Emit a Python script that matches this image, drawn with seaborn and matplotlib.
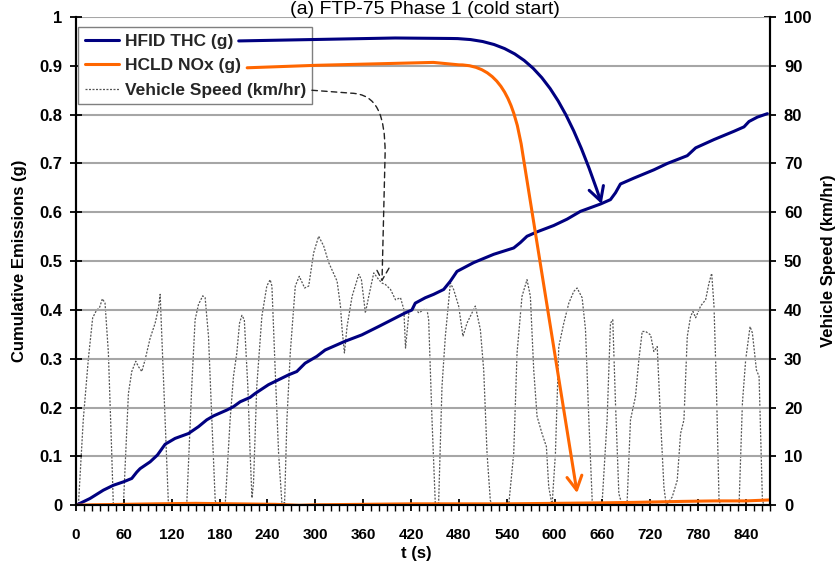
import matplotlib
matplotlib.use("Agg")
import matplotlib.pyplot as plt
import seaborn as sns
import pandas as pd
from matplotlib.path import Path
from matplotlib.patches import FancyArrowPatch
from matplotlib.lines import Line2D
from matplotlib.ticker import FixedLocator, MultipleLocator

# ---------------- data ----------------
thc_t = [0, 17.6, 34.3, 46.8, 59.4, 69.9, 76.2, 80.3, 92.9, 102.1, 111.7, 124.2, 141, 153.5,
         163.9, 172.3, 189, 197.4, 205.8, 218.3, 224.6, 241.3, 266.3, 276.8, 287.2, 301.9,
         312.3, 337.4, 358.3, 379.2, 396, 412.7, 421.1, 425.3, 437.8, 448.3, 460.9, 469.3,
         477.6, 498.5, 523.6, 548.7, 557, 565.4, 578, 598.9, 615.6, 632.4, 657.5, 670, 676.3,
         682.5, 699.3, 724.4, 741.2, 766.3, 776.8, 799.8, 824.9, 837.4, 843.7, 854.2, 866.7]
thc_g = [0, 0.014, 0.031, 0.041, 0.048, 0.055, 0.068, 0.075, 0.089, 0.103, 0.125, 0.137, 0.147,
         0.161, 0.175, 0.183, 0.195, 0.202, 0.212, 0.221, 0.229, 0.247, 0.267, 0.274, 0.291,
         0.305, 0.318, 0.336, 0.349, 0.366, 0.380, 0.394, 0.400, 0.414, 0.425, 0.432, 0.442,
         0.459, 0.479, 0.497, 0.514, 0.527, 0.538, 0.551, 0.560, 0.573, 0.586, 0.602, 0.617,
         0.626, 0.640, 0.658, 0.670, 0.687, 0.700, 0.716, 0.732, 0.749, 0.766, 0.775, 0.786,
         0.795, 0.802]

nox_t = [0, 20, 60, 100, 150, 200, 250, 280, 300, 360, 420, 480, 540, 600, 660, 700, 760, 800,
         840, 870]
nox_g = [0, 0.001, 0.002, 0.003, 0.004, 0.003, 0.002, 0.0, 0.001, 0.002, 0.003, 0.003, 0.003,
         0.004, 0.005, 0.006, 0.008, 0.009, 0.009, 0.011]

speed_t = [0, 3, 9.1, 15.5, 20.9, 25.9, 29.3, 33.1, 36.4, 40.6, 44.8, 46.8, 59.4, 65.7, 69.9,
           74.9, 78.3, 82.5, 86.6, 92.9, 99.2, 103.4, 105.5, 108.8, 111.7, 115.9, 138.8, 145.1,
           149.3, 153.5, 158.9, 161.9, 166.1, 170.3, 174.5, 176.6, 187, 193.2, 197.4, 201.6,
           205, 208, 211, 215.4, 218.3, 220.6, 222.5, 226.6, 233, 239.2, 243.4, 245.6, 249.7,
           254, 258.1, 261.5, 264.4, 268.6, 274.9, 279.9, 286.6, 291.7, 297.9, 304.2, 310.5,
           316.8, 321.8, 327.3, 331.5, 333.6, 336.5, 339.8, 346.1, 354.5, 357.8, 362.8, 367,
           373.3, 379.6, 383.8, 388, 394.3, 400.5, 406.8, 411, 413.1, 417.3, 423.6, 429.9, 436,
           440, 442.1, 446.3, 450.5, 454.6, 458.8, 463, 469.3, 473.4, 479.7, 485.1, 490.1,
           494.3, 500.6, 506.9, 511.1, 515.3, 519.4, 522, 542.4, 548.7, 552.9, 559.1, 565.4,
           569.6, 573.8, 578, 584.2, 589.7, 592.6, 596.8, 601, 605.2, 611.5, 617.8, 624, 628.2,
           634.5, 638.7, 642.9, 647.1, 650, 657, 659.6, 665.8, 670, 672.9, 676.3, 680.5, 684.7,
           690.9, 695.1, 701.4, 705.6, 709.8, 714, 720.3, 724.4, 728.6, 732.8, 737, 739.9,
           747.4, 753.7, 757.9, 762.1, 766.3, 770.5, 773.4, 776.8, 783, 789.3, 793.5, 796.9,
           799.8, 802.8, 806.1, 808.2, 831.2, 835.4, 839.5, 845, 847.9, 853, 856.3, 860.5,
           862.6]
speed_kmh = [0, 0, 17.5, 30, 38.4, 40, 40.4, 42.3, 41.4, 31.2, 10.6, 0, 0, 22.9, 27.4, 29.5,
             28.4, 27.4, 29.8, 34.2, 37.3, 40.4, 43.2, 29.8, 17.5, 0, 0, 24.3, 38, 41.1, 42.9,
             42.5, 34.6, 17.5, 1, 0, 0, 17.5, 26.4, 31.2, 37.3, 38.9, 38, 24.3, 10.6, 1.5, 4.5,
             24.3, 38.7, 44.9, 46.2, 44.9, 27.7, 10.6, 0.5, 0.5, 17.5, 31.2, 44.9, 46.9, 44.5,
             44.9, 51.7, 55.1, 53.1, 49.7, 47.9, 45.9, 40.8, 36, 31.2, 36.6, 42.8, 47.3, 46.2,
             39.4, 42.8, 47.6, 46.2, 45.5, 45.2, 44.2, 42.1, 42.5, 40.1, 32.2, 39.4, 40.4, 39.4,
             40.1, 40.1, 38, 17.5, 0, 0.5, 24.3, 34.6, 45.5, 44.2, 40.8, 34.6, 37.3, 38.7, 40.8,
             36, 27.7, 10.6, 1, 0, 0, 10.6, 31.2, 42.8, 46.2, 42.8, 27.7, 18.2, 14.7, 12, 3.8,
             0, 10.6, 32.5, 37.3, 41.4, 43.8, 44.5, 42.5, 36, 17.5, 1, 0, 0, 0.7, 17.5, 37.3,
             38, 20.9, 2.4, 0, 0.7, 17.5, 22.3, 29.8, 35.6, 35.6, 34.9, 31.5, 32.5, 17.5, 3.8,
             0, 1.7, 5.1, 14.7, 17.5, 34.6, 38.7, 39.7, 38.4, 40.8, 42.1, 45.5, 47.5, 40.8,
             24.3, 1, 0, 0, 20.9, 29.8, 36.6, 35.3, 27.7, 26.4, 1, 0]

x_ticks = [0, 60, 120, 180, 240, 300, 360, 420, 480, 540, 600, 660, 720, 780, 840]
left_ticks = [0, 0.1, 0.2, 0.3, 0.4, 0.5, 0.6, 0.7, 0.8, 0.9, 1]
right_ticks = [0, 10, 20, 30, 40, 50, 60, 70, 80, 90, 100]

series_labels = ["HFID THC (g)", "HCLD NOx (g)", "Vehicle Speed (km/hr)"]
title_text = "(a) FTP-75 Phase 1 (cold start)"

# annotation arrows: straight run from the legend, a bend, then a run to the tip
# (time s, emissions g); bends are cubic Bezier segments (start, ctrl1, ctrl2, end)
thc_arrow_run = [(204, 0.951), (400, 0.957), (470, 0.956)]
thc_arrow_bend = [(470, 0.956), (562, 0.955), (605, 0.880), (659, 0.617)]
nox_arrow_run = [(214.6, 0.896), (300, 0.901), (448, 0.907), (480, 0.902)]
nox_arrow_bend = [(480, 0.902), (530, 0.902), (550, 0.830), (560, 0.720)]
nox_arrow_tip = (628.2, 0.025)
spd_arrow_run = [(295.7, 0.850), (345, 0.844)]
spd_arrow_bend = [(345, 0.844), (377, 0.842), (387.5, 0.80), (387.5, 0.72)]
spd_arrow_tip = (383.6, 0.458)

# ---------------- styling ----------------
sns.set_theme(style="white")
plt.rcParams["font.family"] = ["Liberation Sans", "DejaVu Sans"]

NAVY = "#000080"
ORANGE = "#FF6600"
SPEED_C = "#555555"
GRID_C = "#A6A6A6"
SPEED_LS = (0, (1.6, 1.2))

fig = plt.figure(figsize=(8.39, 5.72), dpi=100)
fig.patch.set_facecolor("white")
W, H = 839, 572
ax = fig.add_axes([76 / W, 1 - 505.3 / H, 694 / W, 488.3 / H])
ax2 = ax.twinx()

speed_df = pd.DataFrame({"t": speed_t, "v": speed_kmh})
thc_df = pd.DataFrame({"t": thc_t, "v": thc_g})
nox_df = pd.DataFrame({"t": nox_t, "v": nox_g})

sns.lineplot(data=speed_df, x="t", y="v", ax=ax2, color=SPEED_C, lw=0.9,
             linestyle=SPEED_LS, estimator=None, sort=False)
ax.set_zorder(ax2.get_zorder() + 1)
ax.patch.set_visible(False)
ax2.set_facecolor("white")

sns.lineplot(data=thc_df, x="t", y="v", ax=ax, color=NAVY, lw=2.2, estimator=None, sort=False)
sns.lineplot(data=nox_df, x="t", y="v", ax=ax, color=ORANGE, lw=2.2, estimator=None, sort=False)

ax.set_xlim(0, 870)
ax.set_ylim(0, 1)
ax2.set_ylim(0, 100)

ax.xaxis.set_major_locator(FixedLocator(x_ticks))
ax.xaxis.set_minor_locator(MultipleLocator(10))
ax.set_yticks(left_ticks, labels=[f"{v:g}" for v in left_ticks])
ax2.set_yticks(right_ticks, labels=[f"{v:g}" for v in right_ticks])

for lab in ax.get_xticklabels():
    lab.set_fontsize(11)
    lab.set_fontweight("bold")
    lab.set_color("black")
for lab in ax.get_yticklabels() + ax2.get_yticklabels():
    lab.set_fontsize(12)
    lab.set_fontweight("bold")
    lab.set_color("black")

ax.tick_params(axis="x", which="major", direction="inout", length=8, width=1.3, pad=12,
               bottom=True, colors="black")
ax.tick_params(axis="x", which="minor", direction="out", length=4, width=1.0, bottom=True,
               colors="black")
ax.tick_params(axis="y", which="major", direction="inout", length=8, width=1.3, pad=6,
               left=True, colors="black")
ax2.tick_params(axis="y", which="major", direction="inout", length=8, width=1.3, pad=6,
                right=True, colors="black")

ax.yaxis.grid(True, color=GRID_C, lw=1.5)
ax.xaxis.grid(False)
ax2.grid(False)

for a in (ax, ax2):
    a.spines["top"].set_visible(False)
    for s in ("left", "right", "bottom"):
        a.spines[s].set_color("black")
        a.spines[s].set_linewidth(1.5)

ax.set_xlabel("t (s)", fontsize=12, fontweight="bold", color="black")
ax.set_ylabel("Cumulative Emissions (g)", fontsize=12, fontweight="bold", color="black")
ax2.set_ylabel("Vehicle Speed (km/hr)", fontsize=12, fontweight="bold", color="black",
               rotation=90)
ax.xaxis.set_label_coords(0.49, -0.084)
ax.yaxis.set_label_coords(-0.071, 0.5)
ax2.yaxis.set_label_coords(1.0735, 0.5)

fig.text(425 / W, 1 - 14.5 / H, title_text, ha="center", va="baseline", fontsize=14,
         color="black")

# legend
handles = [Line2D([], [], color=NAVY, lw=2.2),
           Line2D([], [], color=ORANGE, lw=2.2),
           Line2D([], [], color=SPEED_C, lw=0.9, linestyle=SPEED_LS)]
leg = ax.legend(handles, series_labels, loc="upper left", bbox_to_anchor=(0.003, 0.9795),
                frameon=True, fancybox=False, edgecolor="#7f7f7f", facecolor="white",
                framealpha=1, prop=dict(size=12.5, weight="bold"), handlelength=2.0,
                handletextpad=0.3, labelspacing=0.54, borderpad=0.38, borderaxespad=0)
leg.get_frame().set_linewidth(1.0)
leg.set_zorder(5)


def arrow_path(run, bend, tip=None):
    verts = list(run)
    codes = [Path.MOVETO] + [Path.LINETO] * (len(run) - 1)
    verts += list(bend[1:])
    codes += [Path.CURVE4] * 3
    if tip is not None:
        verts.append(tip)
        codes.append(Path.LINETO)
    return Path(verts, codes)


def draw_arrow(path, color, lw, ls="-", ms=18):
    p = FancyArrowPatch(path=path, arrowstyle="->,head_length=0.55,head_width=0.3",
                        mutation_scale=ms, color=color, lw=lw, linestyle=ls,
                        transform=ax.transData, joinstyle="round", capstyle="round",
                        zorder=6, clip_on=False)
    ax.add_patch(p)


draw_arrow(arrow_path(thc_arrow_run, thc_arrow_bend), NAVY, 2.2)
draw_arrow(arrow_path(nox_arrow_run, nox_arrow_bend, nox_arrow_tip), ORANGE, 2.2)
draw_arrow(arrow_path(spd_arrow_run, spd_arrow_bend, spd_arrow_tip), "#222222", 1.0,
           ls=(0, (4, 3)), ms=16)

fig.savefig("out.png", dpi=100, facecolor="white")
